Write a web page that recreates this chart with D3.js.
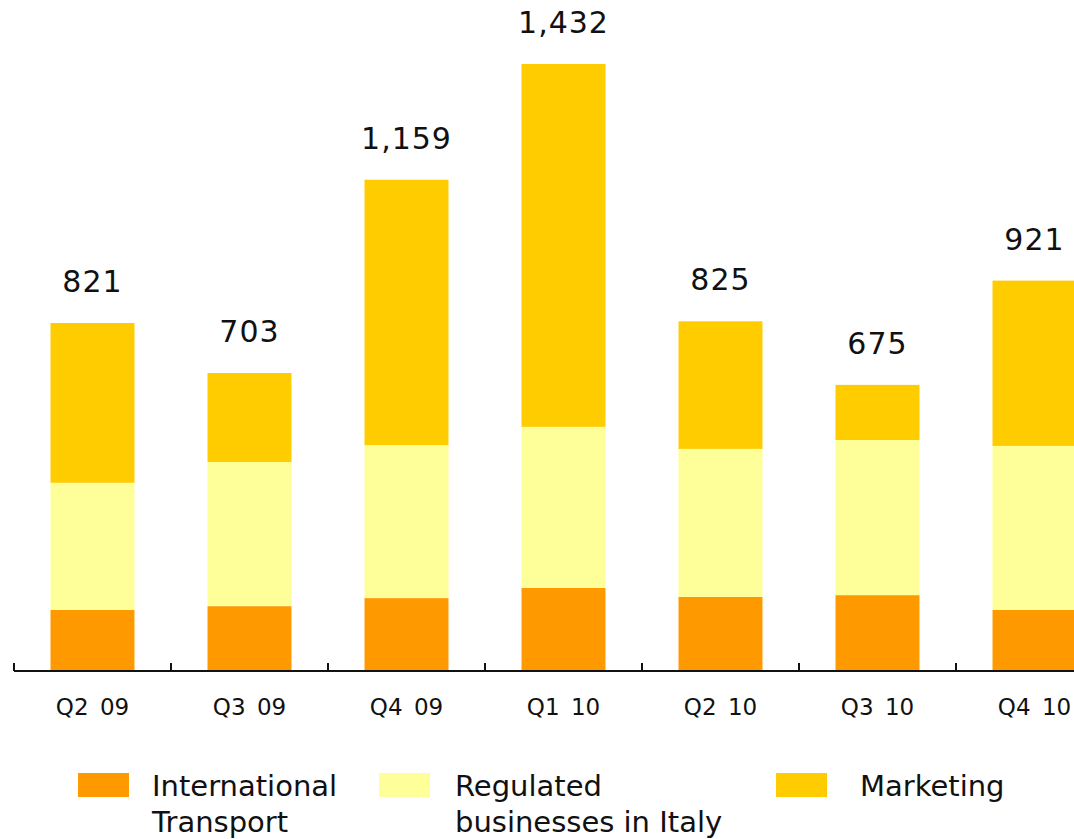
<!DOCTYPE html>
<html><head><meta charset="utf-8">
<script src="https://cdn.jsdelivr.net/npm/d3@7"></script>
<style>body{margin:0;background:#fff;overflow:hidden}svg{display:block}</style>
</head><body>
<svg id="c" width="1074" height="839"></svg>
<script>
const categories = ["Q2 09","Q3 09","Q4 09","Q1 10","Q2 10","Q3 10","Q4 10"];
const internationalTransport = [144,153,172,196,175,179,144];
const regulatedItaly = [300,340,361,380,349,366,387];
const marketing = [377,210,626,856,301,130,390];
const totals = [821,703,1159,1432,825,675,921];
const totalLabels = ["821","703","1,159","1,432","825","675","921"];
const seriesKeys = ["intl","reg","mkt"];
const seriesNames = [["International","Transport"],["Regulated","businesses in Italy"],["Marketing"]];
const colors = ["#FF9900","#FFFF99","#FFCC00"];

const rows = categories.map((c,i)=>({cat:c,intl:internationalTransport[i],reg:regulatedItaly[i],mkt:marketing[i]}));
const svg = d3.select("#c");
const font = "DejaVu Sans, Verdana, sans-serif";

const x = d3.scaleBand().domain(categories).range([14, 14+157*7]).paddingInner(0.465).paddingOuter(0.2325);
const y = d3.scaleLinear().domain([0,1432]).range([671,64]);
const color = d3.scaleOrdinal().domain(seriesKeys).range(colors);

const stacked = d3.stack().keys(seriesKeys)(rows);
svg.append("g").selectAll("g").data(stacked).join("g")
  .attr("fill", d=>color(d.key))
  .selectAll("rect").data(d=>d).join("rect")
  .attr("x", d=>x(d.data.cat))
  .attr("width", x.bandwidth())
  .attr("y", d=>y(d[1]))
  .attr("height", d=>y(d[0])-y(d[1]));

// totals
svg.append("g").selectAll("text").data(categories).join("text")
  .attr("x", d=>x(d)+x.bandwidth()/2)
  .attr("y", (d,i)=>y(totals[i])-31)
  .attr("text-anchor","middle")
  .attr("font-family",font).attr("font-size",30).attr("fill","#111")
  .attr("letter-spacing","1px")
  .text((d,i)=>totalLabels[i]);

// axis
const ax = svg.append("g");
ax.append("line").attr("x1",14).attr("x2",1074).attr("y1",y(0)).attr("y2",y(0))
  .attr("stroke","#111").attr("stroke-width",2);
const bounds = d3.range(categories.length+1).map(i=>x.range()[0]+i*x.step());
ax.selectAll("line.t").data(bounds).join("line").attr("class","t")
  .attr("x1",d=>d).attr("x2",d=>d).attr("y1",y(0)).attr("y2",y(0)-8)
  .attr("stroke","#111").attr("stroke-width",2);
const axisG = svg.append("g").attr("transform",`translate(0,${y(0)})`)
  .call(d3.axisBottom(x).tickSize(0).tickPadding(44));
axisG.select(".domain").remove();
axisG.selectAll("text").attr("font-family",font).attr("font-size",23).attr("fill","#111")
  .attr("word-spacing","4px").attr("dy","0");

// legend
const legX = [78,379,776];
const legTX = [152,455,860];
const lg = svg.append("g").selectAll("g").data(seriesKeys).join("g");
lg.append("rect").attr("x",(d,i)=>legX[i]).attr("y",773).attr("width",51).attr("height",24)
  .attr("fill",d=>color(d));
lg.append("text").attr("font-family",font).attr("font-size",29).attr("fill","#111")
  .each(function(d,i){
    const t=d3.select(this);
    seriesNames[i].forEach((s,j)=>{
      t.append("tspan").attr("x",legTX[i]).attr("y",796+j*36).text(s);
    });
  });
</script>
</body></html>
